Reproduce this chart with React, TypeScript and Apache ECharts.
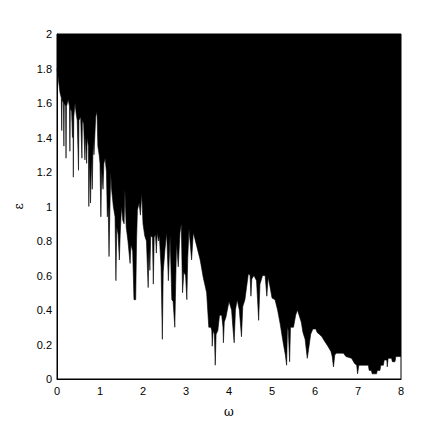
import React, { useEffect, useRef } from "react";
import * as echarts from "echarts";

// Boundary of the black (upper) region: omega values and epsilon values
const omega = [
  0.00, 0.07, 0.10, 0.11, 0.12, 0.15, 0.16, 0.17, 0.20, 0.21, 0.22, 0.26, 0.29, 0.30, 0.31, 0.34,
  0.36, 0.37, 0.38, 0.39, 0.42, 0.45, 0.47, 0.50, 0.51, 0.55, 0.58, 0.59, 0.62, 0.65, 0.66, 0.69,
  0.70, 0.73, 0.74, 0.76, 0.78, 0.80, 0.82, 0.84, 0.86, 0.90, 0.93, 0.95, 0.98, 1.00, 1.02, 1.04,
  1.07, 1.09, 1.12, 1.15, 1.17, 1.19, 1.21, 1.23, 1.25, 1.27, 1.31, 1.35, 1.37, 1.39, 1.42, 1.45,
  1.47, 1.50, 1.53, 1.56, 1.58, 1.61, 1.65, 1.70, 1.72, 1.76, 1.79, 1.83, 1.85, 1.87, 1.91, 1.94,
  1.97, 2.00, 2.04, 2.08, 2.12, 2.14, 2.16, 2.18, 2.22, 2.24, 2.26, 2.29, 2.31, 2.33, 2.36, 2.38,
  2.42, 2.45, 2.47, 2.51, 2.55, 2.59, 2.63, 2.67, 2.70, 2.74, 2.76, 2.78, 2.82, 2.86, 2.89, 2.92,
  2.95, 2.99, 3.02, 3.04, 3.07, 3.13, 3.17, 3.25, 3.33, 3.40, 3.48, 3.53, 3.58, 3.60, 3.61, 3.63,
  3.66, 3.68, 3.70, 3.74, 3.78, 3.83, 3.86, 3.87, 3.89, 3.93, 4.00, 4.06, 4.09, 4.12, 4.15, 4.19,
  4.24, 4.29, 4.32, 4.37, 4.45, 4.49, 4.51, 4.53, 4.58, 4.64, 4.69, 4.72, 4.78, 4.84, 4.88, 4.91,
  4.95, 5.00, 5.07, 5.13, 5.19, 5.26, 5.31, 5.34, 5.36, 5.38, 5.41, 5.43, 5.50, 5.55, 5.59, 5.63,
  5.68, 5.72, 5.77, 5.82, 5.85, 5.90, 5.95, 6.02, 6.05, 6.10, 6.16, 6.22, 6.30, 6.37, 6.40, 6.43,
  6.46, 6.50, 6.66, 6.72, 6.85, 6.92, 6.97, 6.99, 7.02, 7.24, 7.26, 7.31, 7.33, 7.43, 7.45, 7.51,
  7.53, 7.59, 7.61, 7.67, 7.68, 7.70, 7.78, 7.80, 7.86, 7.88, 8.00,
];
const epsilon = [
  1.80, 1.66, 1.63, 1.44, 1.62, 1.60, 1.35, 1.60, 1.58, 1.28, 1.58, 1.62, 1.58, 1.32, 1.57, 1.55,
  1.40, 1.55, 1.17, 1.52, 1.60, 1.53, 1.50, 1.21, 1.50, 1.52, 1.28, 1.50, 1.48, 1.27, 1.42, 1.25,
  1.40, 1.35, 1.00, 1.30, 1.02, 1.28, 1.10, 1.38, 1.30, 1.52, 1.55, 1.35, 1.30, 1.25, 0.94, 1.22,
  1.10, 1.25, 1.28, 1.20, 0.94, 1.00, 0.71, 0.98, 1.20, 1.10, 1.00, 0.94, 0.57, 0.88, 0.84, 0.69,
  0.84, 1.00, 0.92, 0.90, 1.10, 0.88, 0.80, 0.67, 0.78, 0.74, 0.46, 0.46, 0.80, 0.98, 1.02, 0.95,
  1.08, 0.90, 0.83, 0.80, 0.53, 0.75, 0.63, 0.83, 0.82, 0.55, 0.82, 0.84, 0.73, 0.85, 0.80, 0.83,
  0.65, 0.23, 0.62, 0.75, 0.85, 0.57, 0.83, 0.46, 0.45, 0.30, 0.55, 0.79, 0.65, 0.85, 0.90, 0.50,
  0.62, 0.60, 0.46, 0.70, 0.87, 0.69, 0.85, 0.77, 0.69, 0.59, 0.50, 0.30, 0.30, 0.28, 0.19, 0.28,
  0.26, 0.08, 0.26, 0.28, 0.37, 0.37, 0.30, 0.21, 0.33, 0.36, 0.45, 0.40, 0.30, 0.21, 0.40, 0.46,
  0.40, 0.245, 0.42, 0.46, 0.61, 0.60, 0.48, 0.58, 0.60, 0.57, 0.34, 0.55, 0.60, 0.60, 0.48, 0.59,
  0.54, 0.47, 0.46, 0.40, 0.32, 0.21, 0.14, 0.08, 0.30, 0.28, 0.10, 0.30, 0.30, 0.37, 0.40, 0.37,
  0.33, 0.27, 0.23, 0.12, 0.17, 0.26, 0.29, 0.29, 0.27, 0.26, 0.245, 0.22, 0.19, 0.16, 0.13, 0.07,
  0.14, 0.15, 0.15, 0.13, 0.12, 0.09, 0.08, 0.03, 0.08, 0.08, 0.05, 0.05, 0.03, 0.03, 0.05, 0.05,
  0.08, 0.08, 0.11, 0.11, 0.07, 0.12, 0.12, 0.10, 0.10, 0.13, 0.13,
];

const xTitle = "ω";
const yTitle = "ε";

export default function App() {
  const ref = useRef<HTMLDivElement>(null);
  useEffect(() => {
    if (!ref.current) return;
    const chart = echarts.init(ref.current, null, { renderer: "svg" });
    const data = omega.map((w, i) => [w, epsilon[i]]);
    const labelStyle = {
      color: "#000",
      fontFamily: "Liberation Sans, Arial, sans-serif",
      fontSize: 11,
    };
    chart.setOption({
      animation: false,
      backgroundColor: "#fff",
      grid: {
        left: 57,
        top: 34,
        right: 42,
        bottom: 50,
        show: true,
        borderColor: "#000",
        borderWidth: 1,
        backgroundColor: "#fff",
        containLabel: false,
      },
      xAxis: {
        type: "value",
        min: 0,
        max: 8,
        interval: 1,
        name: xTitle,
        nameLocation: "middle",
        nameGap: 27,
        nameTextStyle: { color: "#000", fontFamily: "DejaVu Serif, serif", fontSize: 12 },
        axisLine: { show: true, lineStyle: { color: "#000", width: 1 } },
        axisTick: { show: false },
        splitLine: { show: false },
        axisLabel: { ...labelStyle, margin: 6 },
      },
      yAxis: {
        type: "value",
        min: 0,
        max: 2,
        interval: 0.2,
        name: yTitle,
        nameLocation: "middle",
        nameGap: 32,
        nameRotate: 90,
        nameTextStyle: { color: "#000", fontFamily: "DejaVu Serif, serif", fontSize: 12 },
        axisLine: { show: true, lineStyle: { color: "#000", width: 1 } },
        axisTick: { show: false },
        splitLine: { show: false },
        axisLabel: { ...labelStyle, margin: 5 },
      },
      series: [
        {
          type: "line",
          data,
          symbol: "none",
          silent: true,
          lineStyle: { color: "#000", width: 0.6 },
          areaStyle: { color: "#000", opacity: 1, origin: "end" },
          clip: true,
          z: 1,
        },
      ],
    });
    return () => chart.dispose();
  }, []);
  return <div ref={ref} style={{ width: 443, height: 429, position: "absolute", left: 0, top: 0 }} />;
}
